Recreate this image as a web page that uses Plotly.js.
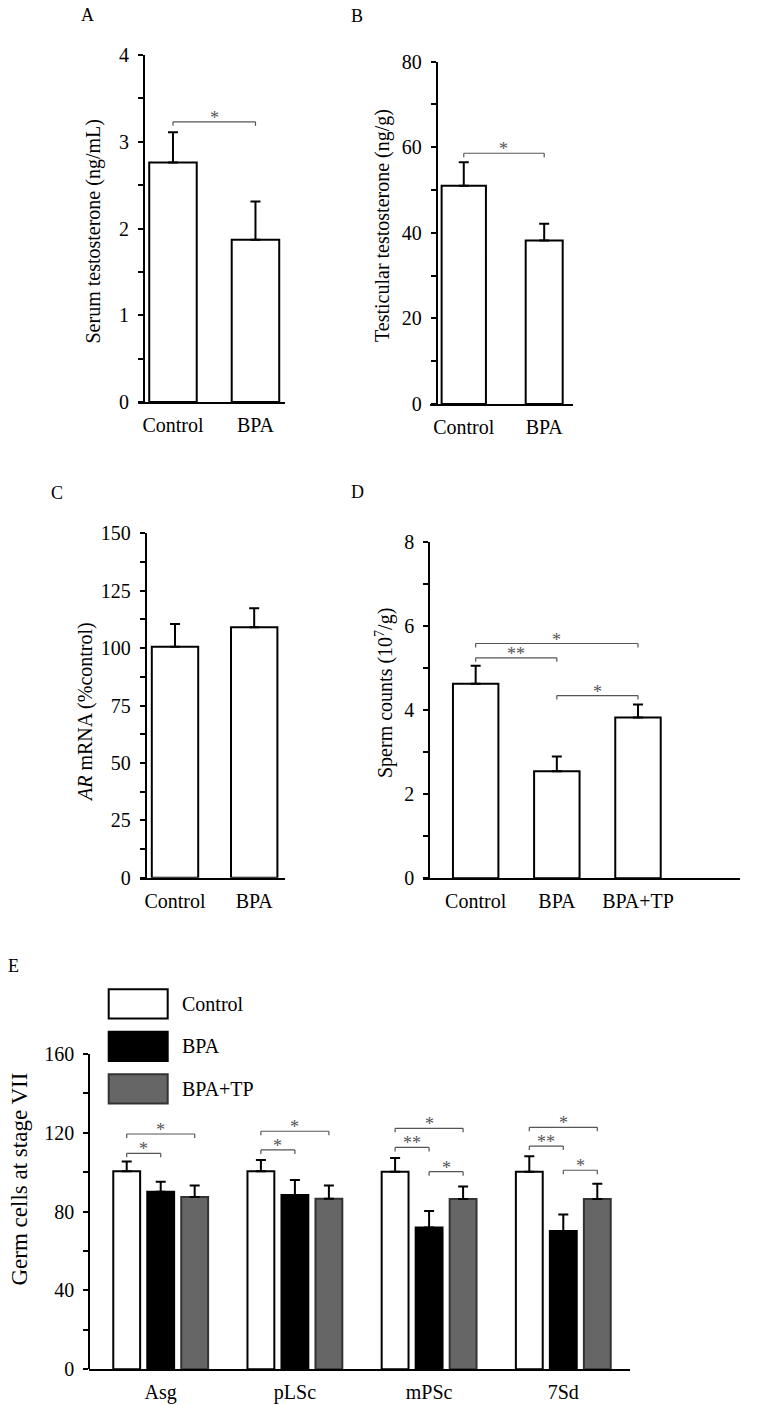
<!DOCTYPE html>
<html><head><meta charset="utf-8">
<script src="https://cdn.plot.ly/plotly-3.0.1.min.js"></script>
<style>html,body{margin:0;padding:0;background:#fff}</style>
</head><body><div id="chart" style="width:758px;height:1405px"></div>
<script>
// ---------- DATA ----------
const catsAB = ['Control', 'BPA'];
const serumT = [2.76, 1.87];
const serumTErr = [0.35, 0.44];
const testT = [51.0, 38.2];
const testTErr = [5.5, 3.9];
const arMRNA = [100.6, 109.1];
const arMRNAErr = [9.9, 8.3];
const catsD = ['Control', 'BPA', 'BPA+TP'];
const sperm = [4.63, 2.55, 3.83];
const spermErr = [0.43, 0.35, 0.31];
const stagesE = ['Asg', 'pLSc', 'mPSc', '7Sd'];
const seriesE = ['Control', 'BPA', 'BPA+TP'];
const germControl = [100.5, 100.5, 100.3, 100.3];
const germControlErr = [5.0, 5.7, 6.9, 7.8];
const germBPA = [90.1, 88.4, 71.9, 70.2];
const germBPAErr = [5.1, 7.6, 8.4, 8.4];
const germTP = [87.4, 86.6, 86.4, 86.4];
const germTPErr = [5.9, 6.7, 6.3, 7.8];
// significance brackets: [fromIndex, toIndex, y, label]
const sigA = [[0, 1, 3.23, '*']];
const sigB = [[0, 1, 58.6, '*']];
const sigD = [[0, 1, 5.25, '**'], [0, 2, 5.59, '*'], [1, 2, 4.35, '*']];
// panel E: [category, fromSeries, toSeries, y, label]
const sigE = [[0, 0, 1, 109.6, '*'], [0, 0, 2, 119.4, '*'], [1, 0, 1, 111.3, '*'], [1, 0, 2, 120.8, '*'],
              [2, 0, 1, 112.6, '**'], [2, 0, 2, 122.3, '*'], [2, 1, 2, 100.3, '*'],
              [3, 0, 1, 113.3, '**'], [3, 0, 2, 122.8, '*'], [3, 1, 2, 101.0, '*']];

// ---------- LAYOUT GEOMETRY ----------
const W = 758, H = 1405;
const FONT = '"Liberation Serif", "Times New Roman", serif';
const xd = p => [p[0] / W, p[1] / W];
const yd = p => [1 - p[1] / H, 1 - p[0] / H];
const BARGAP = 0.24, BARGROUPGAP = 0.21;

const panels = {
  A: {s: '',  xPx: [138, 285],   yPx: [55, 402],      yAx: 144,   xr: [-0.424, 1.358], yr: [0, 4],   dt: 1,  mn: 0.5,  letter: [87, 15],   title: 'Serum testosterone (ng/mL)', tpos: [92.5, 232], tsize: 20},
  B: {s: '2', xPx: [430, 573.3], yPx: [61.7, 404],    yAx: 436.7, xr: [-0.42, 1.362],  yr: [0, 80],  dt: 20, mn: 10,   letter: [357, 16],  title: 'Testicular testosterone (ng/g)', tpos: [383, 226], tsize: 20},
  C: {s: '3', xPx: [140, 285],   yPx: [533.3, 877.7], yAx: 145.7, xr: [-0.442, 1.389], yr: [0, 150], dt: 25, mn: 12.5, letter: [57, 493],  title: '<i>AR</i> mRNA (%control)', tpos: [85, 712], tsize: 20},
  D: {s: '4', xPx: [423, 740],   yPx: [542.3, 878.3], yAx: 429.3, xr: [-0.649, 3.257], yr: [0, 8],   dt: 2,  mn: 1,    letter: [357, 492], title: 'Sperm counts (10<sup>7</sup>/g)', tpos: [384, 693], tsize: 20},
  E: {s: '5', xPx: [89.3, 630],  yPx: [1054, 1369.3], yAx: 89.3,  xr: [-0.532, 3.497], yr: [0, 160], dt: 40, mn: 20,   letter: [13.5, 966], title: 'Germ cells at stage VII', tpos: [18.5, 1179], tsize: 23}
};

const layout = {
  width: W, height: H, margin: {l: 0, r: 0, t: 0, b: 0},
  paper_bgcolor: '#fff', plot_bgcolor: 'rgba(0,0,0,0)',
  showlegend: false, barmode: 'group', bargap: BARGAP, bargroupgap: BARGROUPGAP,
  font: {family: FONT, color: '#000', size: 20},
  shapes: [], annotations: []
};

Object.keys(panels).forEach(k => {
  const p = panels[k];
  layout['xaxis' + p.s] = {
    domain: xd(p.xPx), anchor: 'y' + p.s, range: p.xr, type: 'category',
    showline: true, linewidth: 2, linecolor: '#000', ticks: '', showgrid: false, zeroline: false,
    tickfont: {family: FONT, size: 20, color: '#000'}, ticklabelstandoff: 4, fixedrange: true
  };
  layout['yaxis' + p.s] = {
    domain: yd(p.yPx), anchor: 'free', position: p.yAx / W, range: p.yr,
    showline: true, linewidth: 2, linecolor: '#000', showgrid: false, zeroline: false,
    ticks: 'outside', ticklen: 5, tickwidth: 2, tickcolor: '#000', tick0: 0, dtick: p.dt,
    minor: {ticks: 'outside', dtick: p.mn, ticklen: 5, tickwidth: 2, tickcolor: '#000'},
    tickfont: {family: FONT, size: 20, color: '#000'}, ticklabelstandoff: 5, fixedrange: true
  };
  layout.annotations.push({xref: 'paper', yref: 'paper', x: p.letter[0] / W, y: 1 - p.letter[1] / H,
    text: k, showarrow: false, xanchor: 'center', yanchor: 'middle', font: {family: FONT, size: 18, color: '#000'}});
  layout.annotations.push({xref: 'paper', yref: 'paper', x: p.tpos[0] / W, y: 1 - p.tpos[1] / H,
    text: p.title, textangle: -90, showarrow: false, xanchor: 'center', yanchor: 'middle',
    font: {family: FONT, size: p.tsize, color: '#000'}});
});

// ---------- TRACES ----------
function errY(arr, color) {
  return {type: 'data', symmetric: false, array: arr, arrayminus: arr.map(() => 0),
          color: color || '#000', thickness: 2, width: 5};
}
function barTrace(s, cats, vals, err, width, fill) {
  return {type: 'bar', x: cats, y: vals, xaxis: 'x' + s, yaxis: 'y' + s, width: width,
          marker: {color: fill || '#fff', line: {color: '#000', width: 2}},
          error_y: errY(err), hoverinfo: 'x+y'};
}
const traces = [
  barTrace('', catsAB, serumT, serumTErr, 0.576),
  barTrace('2', catsAB, testT, testTErr, [0.551, 0.46]),
  barTrace('3', catsAB, arMRNA, arMRNAErr, 0.586),
  barTrace('4', catsD, sperm, spermErr, 0.56)
];
const eVals = [germControl, germBPA, germTP];
const eErrs = [germControlErr, germBPAErr, germTPErr];
const eFill = ['#fff', '#000', '#666'];
const eLine = ['#000', '#000', '#333'];
seriesE.forEach((name, i) => {
  traces.push({type: 'bar', name: name, x: stagesE, y: eVals[i], xaxis: 'x5', yaxis: 'y5',
    marker: {color: eFill[i], line: {color: eLine[i], width: 2}}, error_y: errY(eErrs[i])});
});

// ---------- SIGNIFICANCE BRACKETS ----------
const BR_COLOR = '#555';
function addBracket(p, x0, x1, y, label) {
  const tick = 4 * (p.yr[1] - p.yr[0]) / (p.yPx[1] - p.yPx[0]);
  const xr = 'x' + p.s, yr = 'y' + p.s;
  const ln = {color: BR_COLOR, width: 1.2};
  layout.shapes.push({type: 'line', xref: xr, yref: yr, x0: x0, x1: x1, y0: y, y1: y, line: ln});
  layout.shapes.push({type: 'line', xref: xr, yref: yr, x0: x0, x1: x0, y0: y, y1: y - tick, line: ln});
  layout.shapes.push({type: 'line', xref: xr, yref: yr, x0: x1, x1: x1, y0: y, y1: y - tick, line: ln});
  layout.annotations.push({xref: xr, yref: yr, x: (x0 + x1) / 2, y: y, text: label, showarrow: false,
    xanchor: 'center', yanchor: 'bottom', yshift: -8, font: {family: FONT, size: 18, color: BR_COLOR}});
}
sigA.forEach(b => addBracket(panels.A, b[0], b[1], b[2], b[3]));
sigB.forEach(b => addBracket(panels.B, b[0], b[1], b[2], b[3]));
sigD.forEach(b => addBracket(panels.D, b[0], b[1], b[2], b[3]));
const slot = (1 - BARGAP) / seriesE.length;
const off = i => (i - (seriesE.length - 1) / 2) * slot;
sigE.forEach(b => addBracket(panels.E, b[0] + off(b[1]), b[0] + off(b[2]), b[3], b[4]));

// ---------- LEGEND FOR PANEL E ----------
const legBox = {x0: 108.7, x1: 167.7, h: 29.3, tops: [989.3, 1031.7, 1074.3], textX: 180};
seriesE.forEach((name, i) => {
  const t = legBox.tops[i];
  layout.shapes.push({type: 'rect', xref: 'paper', yref: 'paper',
    x0: legBox.x0 / W, x1: legBox.x1 / W, y0: 1 - (t + legBox.h) / H, y1: 1 - t / H,
    fillcolor: eFill[i], line: {color: eLine[i], width: 2}});
  layout.annotations.push({xref: 'paper', yref: 'paper', x: legBox.textX / W, y: 1 - (t + legBox.h / 2) / H,
    text: name, showarrow: false, xanchor: 'left', yanchor: 'middle', font: {family: FONT, size: 20, color: '#000'}});
});

Plotly.newPlot('chart', traces, layout, {displayModeBar: false, staticPlot: true});
</script>
</body></html>
